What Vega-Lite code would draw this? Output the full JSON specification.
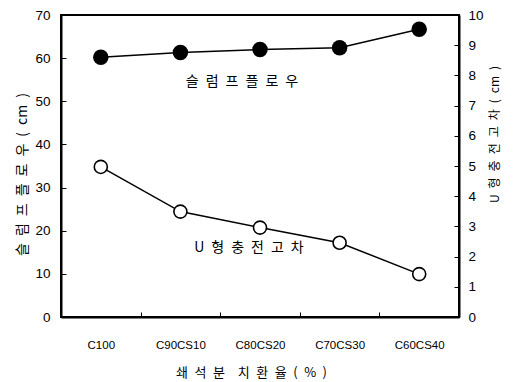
{
  "$schema": "https://vega.github.io/schema/vega-lite/v6.json",
  "width": 398,
  "height": 302,
  "autosize": {"type": "none"},
  "padding": {"left": 61, "top": 15, "right": 61, "bottom": 65},
  "background": "white",
  "config": {
    "view": {"stroke": "black", "strokeWidth": 2},
    "axis": {
      "grid": false,
      "domainColor": "black",
      "domainWidth": 2,
      "tickColor": "black",
      "tickWidth": 1,
      "labelColor": "black",
      "labelFont": "Liberation Sans",
      "titleColor": "black",
      "titleFont": "Noto Sans CJK KR",
      "titleFontWeight": "normal"
    }
  },
  "data": {
    "values": [
      {"mix": "C100", "slump": 60.2, "utype": 4.97},
      {"mix": "C90CS10", "slump": 61.3, "utype": 3.49},
      {"mix": "C80CS20", "slump": 62.0, "utype": 2.96},
      {"mix": "C70CS30", "slump": 62.4, "utype": 2.46},
      {"mix": "C60CS40", "slump": 66.7, "utype": 1.42}
    ]
  },
  "encoding": {
    "x": {
      "field": "mix",
      "type": "ordinal",
      "sort": null,
      "scale": {"type": "band", "paddingInner": 0, "paddingOuter": 0},
      "axis": {
        "title": "쇄\u2002석\u2002분\u2002\u2002치\u2002환\u2002율\u2002(\u2002%\u2002)",
        "titleFontSize": 13,
        "titlePadding": 16,
        "titleX": 190,
        "labelAngle": 0,
        "labelFontSize": 11.5,
        "labelPadding": 27,
        "tickBand": "extent",
        "tickSize": -5
      }
    }
  },
  "layer": [
    {
      "encoding": {
        "y": {
          "field": "slump",
          "type": "quantitative",
          "scale": {"domain": [0, 70]},
          "axis": {
            "orient": "left",
            "values": [0, 10, 20, 30, 40, 50, 60, 70],
            "tickSize": -5,
            "labelFontSize": 13.5,
            "labelPadding": 16,
            "title": "슬\u2002럼\u2002프\u2002플\u2002로\u2002우\u2002(\u2002cm\u2002)",
            "titleFontSize": 14,
            "titlePadding": 5,
            "titleY": 159
          }
        }
      },
      "layer": [
        {"mark": {"type": "line", "color": "black", "strokeWidth": 1.5}},
        {"mark": {"type": "point", "shape": "circle", "filled": true, "color": "black", "opacity": 1, "size": 240}},
        {
          "data": {"values": [{"mix": "C80CS20", "slump": 54.5, "label": "슬\u2002럼\u2002프\u2002플\u2002로\u2002우"}]},
          "mark": {"type": "text", "font": "Noto Sans CJK KR", "fontSize": 14, "color": "black", "dx": -18, "baseline": "middle"},
          "encoding": {"text": {"field": "label"}}
        }
      ]
    },
    {
      "encoding": {
        "y": {
          "field": "utype",
          "type": "quantitative",
          "scale": {"domain": [0, 10]},
          "axis": {
            "orient": "right",
            "values": [0, 1, 2, 3, 4, 5, 6, 7, 8, 9, 10],
            "tickSize": -5,
            "labelFontSize": 13.5,
            "labelPadding": 14,
            "title": "U\u2002형\u2002충\u2002전\u2002고\u2002차\u2002(\u2002cm\u2002)",
            "titleAngle": -90,
            "titleFontSize": 12,
            "titlePadding": 18,
            "titleY": 119
          }
        }
      },
      "layer": [
        {"mark": {"type": "line", "color": "black", "strokeWidth": 1.5}},
        {"mark": {"type": "point", "shape": "circle", "filled": true, "fill": "white", "stroke": "black", "strokeWidth": 1.6, "opacity": 1, "size": 170}},
        {
          "data": {"values": [{"mix": "C80CS20", "utype": 2.29, "label": "U\u2002형\u2002충\u2002전\u2002고\u2002차"}]},
          "mark": {"type": "text", "font": "Noto Sans CJK KR", "fontSize": 14, "color": "black", "dx": -11, "baseline": "middle"},
          "encoding": {"text": {"field": "label"}}
        }
      ]
    }
  ],
  "resolve": {"scale": {"y": "independent"}}
}
